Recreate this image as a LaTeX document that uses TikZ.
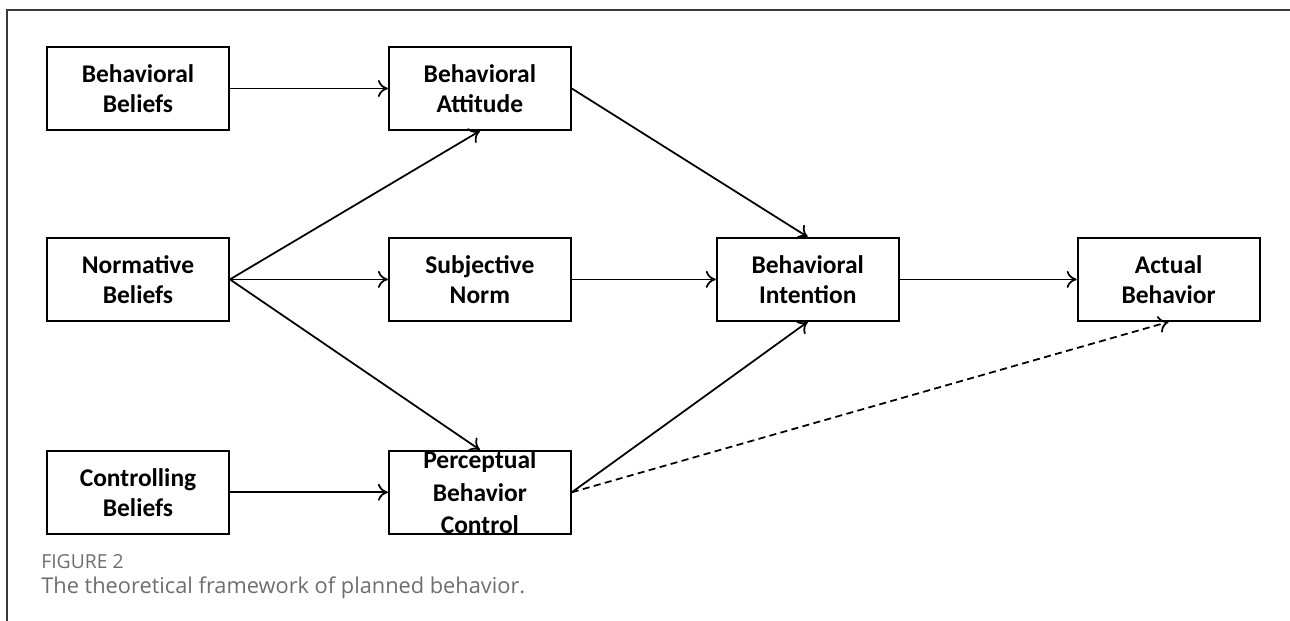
\documentclass[tikz,border=0pt]{standalone}
\usepackage{fontspec}
\setmainfont{Carlito}
\newfontfamily\capfont{Open Sans}
\usepackage{xcolor}
\usetikzlibrary{positioning,arrows.meta}

\definecolor{capgray}{HTML}{6E6E6E}
\definecolor{framegray}{HTML}{3A3A3A}

\begin{document}
\begin{tikzpicture}[
  x=0.02cm, y=-0.02cm,
  box/.style={draw, line width=1.1pt, align=center, minimum height=1.66cm, minimum width=3.64cm, inner sep=2pt, font=\fontsize{14.5}{17}\selectfont\bfseries},
  arr/.style={-{To[length=2mm,width=3.4mm]}, line width=1pt},
  capt/.style={anchor=base west, inner sep=0pt, text=capgray}
]
\useasboundingbox (0,0) rectangle (1290,621);
\draw[framegray, line width=1.2pt] (1290,10) -- (7,10) -- (7,621);

% belief column and the constructs
\node[box] (bb) at (138,88.5) {Behavioral\\Beliefs};
\node[box, right=3.16cm of bb] (ba) {Behavioral\\Attitude};
\node[box, below=2.12cm of bb] (nb) {Normative\\Beliefs};
\node[box, right=3.16cm of nb] (sn) {Subjective\\Norm};
\node[box, right=2.88cm of sn] (bi) {Behavioral\\Intention};
\node[box, right=3.54cm of bi] (ab) {Actual\\Behavior};
\node[box, below=2.56cm of nb] (cb) {Controlling\\Beliefs};
\node[box, right=3.16cm of cb, inner ysep=-3pt, font=\fontsize{14.5}{18.5}\selectfont\bfseries] (pbc) {Perceptual\\Behavior\\Control};

\draw[arr] (bb) -- (ba);
\draw[arr] (nb.east) -- (ba.south);
\draw[arr] (nb) -- (sn);
\draw[arr] (nb.east) -- (pbc.north);
\draw[arr] (cb) -- (pbc);
\draw[arr] (ba.east) -- (bi.north);
\draw[arr] (sn) -- (bi);
\draw[arr] (pbc.east) -- (bi.south);
\draw[arr] (bi) -- (ab);
\draw[arr, dash pattern=on 4pt off 2.5pt] (pbc.east) -- (ab.south);

% caption
\node[capt, font=\capfont\fontsize{11}{13}\selectfont] (fig) at (41,568) {FIGURE 2};
\node[capt, font=\capfont\fontsize{12.4}{15}\selectfont] (cap) at (41,593) {The theoretical framework of planned behavior.};
\end{tikzpicture}
\end{document}
